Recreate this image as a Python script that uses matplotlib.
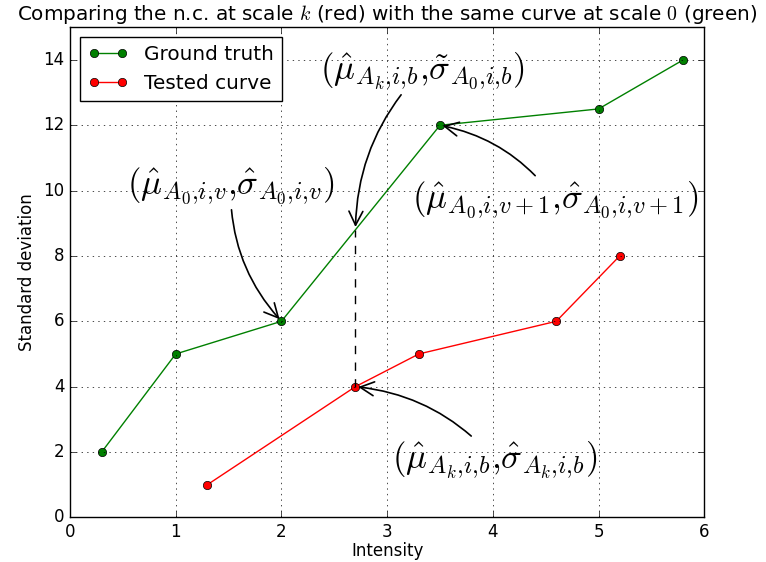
import matplotlib
matplotlib.use("Agg")
import matplotlib.pyplot as plt

plt.style.use("classic")

# data
gt_x = [0.3, 1.0, 2.0, 3.5, 5.0, 5.8]
gt_y = [2, 5, 6, 12, 12.5, 14]
tc_x = [1.3, 2.7, 3.3, 4.6, 5.2]
tc_y = [1, 4, 5, 6, 8]

# point on the ground truth curve above the tested point
b_x = 2.7
b_y = 6 + (b_x - 2.0) * (12 - 6) / (3.5 - 2.0)

labels = [
    r"$(\hat{\mu}_{A_0{,}i{,}v}{,}\hat{\sigma}_{A_0{,}i{,}v})$",
    r"$(\hat{\mu}_{A_k{,}i{,}b}{,}\tilde{\sigma}_{A_0{,}i{,}b})$",
    r"$(\hat{\mu}_{A_0{,}i{,}v+1}{,}\hat{\sigma}_{A_0{,}i{,}v+1})$",
    r"$(\hat{\mu}_{A_k{,}i{,}b}{,}\hat{\sigma}_{A_k{,}i{,}b})$",
]
targets = [(2.0, 6), (b_x, b_y), (3.5, 12), (2.7, 4)]
text_pos = [(1.52, 10.15), (3.33, 13.67), (4.59, 9.72), (4.02, 1.75)]

fig = plt.figure(figsize=(7.66, 5.62), dpi=100)
ax = fig.add_axes([0.0914, 0.0795, 0.828, 0.872])

ax.plot(gt_x, gt_y, "g-o", label="Ground truth", markersize=6)
ax.plot(tc_x, tc_y, "r-o", label="Tested curve", markersize=6)
ax.plot([b_x, b_x], [tc_y[1], b_y], "k--")

for lab, tgt, pos in zip(labels, targets, text_pos):
    ax.annotate(lab, xy=tgt, xytext=pos, fontsize=25, ha="center", va="center",
                arrowprops=dict(arrowstyle="->", connectionstyle="arc3,rad=0.2",
                                color="k", shrinkA=0, shrinkB=2, lw=1.2))

ax.set_xlim(0, 6)
ax.set_ylim(0, 15)
ax.set_yticks(range(0, 15, 2))
ax.grid(True)
ax.set_xlabel("Intensity", fontsize=12, labelpad=1)
ax.set_ylabel("Standard deviation", fontsize=12)
ax.set_title(r"Comparing the n.c. at scale $k$ (red) with the same curve at scale $0$ (green)",
             fontsize=14.4)
ax.legend(loc="upper left")

fig.savefig("out.png", dpi=100)
